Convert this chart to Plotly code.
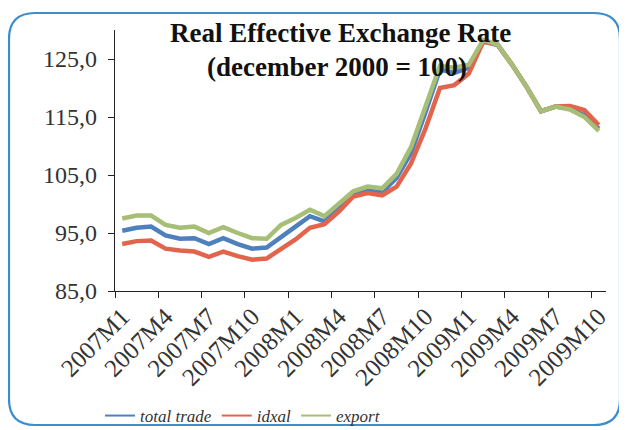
import plotly.graph_objects as go

months = ["2007M1","2007M2","2007M3","2007M4","2007M5","2007M6","2007M7","2007M8","2007M9","2007M10","2007M11","2007M12",
          "2008M1","2008M2","2008M3","2008M4","2008M5","2008M6","2008M7","2008M8","2008M9","2008M10","2008M11","2008M12",
          "2009M1","2009M2","2009M3","2009M4","2009M5","2009M6","2009M7","2009M8","2009M9","2009M10"]

total_trade = [95.4, 95.9, 96.1, 94.6, 94.0, 94.1, 93.1, 94.1, 93.1, 92.3, 92.5, 94.4,
               96.1, 97.9, 97.0, 99.3, 101.6, 102.3, 102.0, 104.5, 108.8, 115.8, 123.2, 122.6,
               123.5, 128.0, 127.4, 124.0, 120.2, 116.0, 116.8, 116.4, 115.3, 113.0]
idxal = [93.1, 93.6, 93.7, 92.3, 92.0, 91.8, 90.9, 91.8, 91.0, 90.4, 90.6, 92.3,
         93.9, 95.9, 96.5, 98.7, 101.3, 101.9, 101.5, 103.0, 107.0, 113.0, 120.0, 120.5,
         122.5, 128.0, 127.5, 124.0, 120.2, 116.0, 116.8, 116.9, 116.2, 113.6]
export = [97.5, 98.0, 98.0, 96.4, 95.9, 96.1, 95.0, 96.0, 95.0, 94.1, 94.0, 96.4,
          97.6, 99.0, 97.9, 100.0, 102.2, 103.0, 102.7, 105.2, 109.8, 116.8, 123.8, 123.5,
          124.0, 128.3, 127.5, 124.0, 120.2, 116.0, 116.8, 116.3, 115.0, 112.6]

series_names = ["total trade", "idxal", "export"]
y_ticks = [85, 95, 105, 115, 125]
y_ticktext = ["85,0", "95,0", "105,0", "115,0", "125,0"]

colors = ["#4f80be", "#e2644d", "#a6be76"]
xidx = list(range(len(months)))

fig = go.Figure()
for name, vals, c in zip(series_names, [total_trade, idxal, export], colors):
    fig.add_trace(go.Scatter(x=xidx, y=vals, mode="lines", name=name, showlegend=False,
                             line=dict(color=c, width=4.5)))
# thin legend entries
for name, c in zip(series_names, colors):
    fig.add_trace(go.Scatter(x=[None], y=[None], mode="lines", name=name,
                             line=dict(color=c, width=2)))

OFF = 8  # browser body margin
W, H = 627 - OFF, 430 - OFF
L, R, T, B = 115 - OFF, W - (606 - OFF), 30 - OFF, H - (291 - OFF)
pw, ph = W - L - R, H - T - B

def px(xp):
    return (xp - OFF - L) / pw

def py(yp):
    return (H - B - (yp - OFF)) / ph

label_idx = xidx[::3]
fig.update_xaxes(range=[-0.5, len(months) - 0.5], tickmode="array",
                 tickvals=label_idx, ticktext=[months[i] for i in label_idx],
                 tickangle=-45, ticks="", showline=True, linecolor="#222", linewidth=1.2,
                 showgrid=False, zeroline=False,
                 tickfont=dict(family="Liberation Serif", size=25, color="#333"),
                 minor=dict(tickmode="array", tickvals=[i - 0.5 for i in label_idx],
                            ticks="outside", ticklen=6, tickcolor="#222", tickwidth=1.2,
                            showgrid=False))
fig.update_yaxes(range=[85, 130], tickmode="array", tickvals=y_ticks, ticktext=y_ticktext,
                 ticks="outside", ticklen=6, tickcolor="#222", tickwidth=1.2,
                 showline=True, linecolor="#222", linewidth=1.2, showgrid=False, zeroline=False,
                 ticklabelstandoff=6,
                 tickfont=dict(family="Liberation Serif", size=24, color="#333"))

# rounded frame
x0, y0, x1, y1, r = px(9), py(13), px(620), py(425), 26
rx, ry = r / pw, r / ph
path = (f"M {x0+rx},{y0} L {x1-rx},{y0} Q {x1},{y0} {x1},{y0-ry} "
        f"L {x1},{y1+ry} Q {x1},{y1} {x1-rx},{y1} L {x0+rx},{y1} Q {x0},{y1} {x0},{y1+ry} "
        f"L {x0},{y0-ry} Q {x0},{y0} {x0+rx},{y0} Z")
fig.add_shape(type="path", path=path, xref="paper", yref="paper",
              line=dict(color="#3d8ccc", width=2.2), layer="below")

fig.add_annotation(text="<b>Real Effective Exchange Rate</b>", xref="paper", yref="paper",
                   x=px(340), y=py(33), showarrow=False, xanchor="center", yanchor="middle",
                   font=dict(family="Liberation Serif", size=27, color="#111"))
fig.add_annotation(text="<b>(december 2000 = 100)</b>", xref="paper", yref="paper",
                   x=px(337), y=py(67), showarrow=False, xanchor="center", yanchor="middle",
                   font=dict(family="Liberation Serif", size=27, color="#111"))

fig.update_layout(width=W, height=H, margin=dict(l=L, r=R, t=T, b=B, autoexpand=False),
                  paper_bgcolor="white", plot_bgcolor="white",
                  legend=dict(orientation="h", x=px(100), y=py(416), xanchor="left", yanchor="middle",
                              bgcolor="rgba(0,0,0,0)",
                              font=dict(family="Liberation Serif", size=17, color="#333", style="italic")))

fig.write_html("out.html")
